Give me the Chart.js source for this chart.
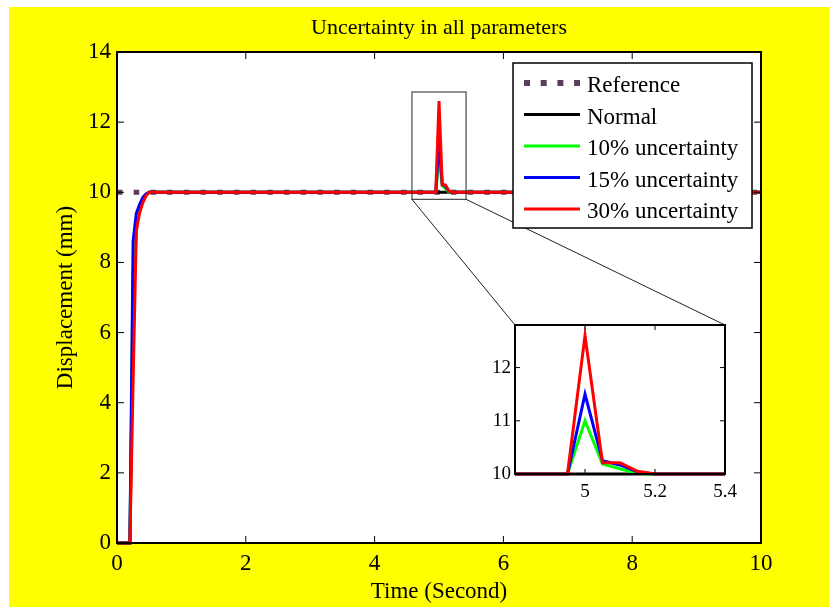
<!DOCTYPE html>
<html>
<head>
<meta charset="utf-8">
<script src="https://cdn.jsdelivr.net/npm/chart.js"></script>
<style>
  html, body { margin: 0; padding: 0; background: #fff; }
  #wrap { position: relative; width: 829px; height: 607px; }
  #mainChart { position: absolute; left: 0; top: 0; }
  #zoomChart { position: absolute; left: 470px; top: 305px; }
</style>
</head>
<body>
<div id="wrap">
  <canvas id="mainChart" width="829" height="607"></canvas>
  <canvas id="zoomChart" width="280" height="200"></canvas>
</div>
<script>
// data
const time = [0, 0.2, 0.25, 0.3, 0.35, 0.4, 0.45, 0.5, 4.95, 5.0, 5.05, 5.1, 5.15, 5.2, 10];
const normal = [0, 0, 6.5, 9.1, 9.5, 9.75, 9.92, 10, 10, 10, 10, 10, 10, 10, 10];
const unc10 = [0, 0, 7.8, 9.2, 9.5, 9.8, 9.93, 10, 10, 11.0, 10.19, 10.1, 10.01, 10, 10];
const unc15 = [0, 0, 8.6, 9.4, 9.65, 9.85, 9.95, 10, 10, 11.5, 10.25, 10.17, 10.04, 10, 10];
const unc30 = [0, 0, 4.6, 8.9, 9.4, 9.7, 9.9, 10, 10, 12.6, 10.21, 10.21, 10.05, 10, 10];
const refTime = [0, 10];
const refValues = [10, 10];

const seriesLabels = ["Reference", "Normal", "10% uncertainty", "15% uncertainty", "30% uncertainty"];
const seriesColors = ["#5c3c5c", "#000000", "#00ff00", "#0000ff", "#ff0000"];

const xTicks = [0, 2, 4, 6, 8, 10];
const yTicks = [0, 2, 4, 6, 8, 10, 12, 14];
const zoomXTicks = [5, 5.2, 5.4];
const zoomYTicks = [10, 11, 12];

const serif = "'Liberation Serif', 'Times New Roman', serif";
const REF_DASH = [5.5, 11.2];
const ZOOM_BOX = { x0: 4.58, x1: 5.42, y0: 9.8, y1: 12.86 };
const INSET = { left: 515, top: 325, right: 725, bottom: 474 };

const toXY = (xs, ys) => xs.map((x, i) => ({ x: x, y: ys[i] }));

function makeDatasets(withReference) {
  const common = { pointRadius: 0, tension: 0, fill: false, borderWidth: 3, clip: { left: 0, top: 0, right: 0, bottom: 3 } };
  const list = [
    Object.assign({}, common, { label: seriesLabels[0], data: toXY(refTime, refValues), borderColor: seriesColors[0], borderWidth: 5, borderDash: REF_DASH, borderCapStyle: "butt", order: 4 }),
    Object.assign({}, common, { label: seriesLabels[1], data: toXY(time, normal), borderColor: seriesColors[1], order: 3 }),
    Object.assign({}, common, { label: seriesLabels[2], data: toXY(time, unc10), borderColor: seriesColors[2], order: 2 }),
    Object.assign({}, common, { label: seriesLabels[3], data: toXY(time, unc15), borderColor: seriesColors[3], order: 1 }),
    Object.assign({}, common, { label: seriesLabels[4], data: toXY(time, unc30), borderColor: seriesColors[4], order: 0 }),
  ];
  return withReference ? list : list.slice(1);
}

// yellow figure + white axes background
const backdrop = {
  id: "backdrop",
  beforeDraw(chart, args, opts) {
    const { ctx, chartArea: a } = chart;
    ctx.save();
    if (opts.figure) {
      ctx.fillStyle = "#ffffff";
      ctx.fillRect(0, 0, chart.width, chart.height);
      ctx.fillStyle = "#ffff00";
      ctx.fillRect(9, 7, chart.width - 9, chart.height - 7);
    }
    ctx.fillStyle = "#ffffff";
    ctx.fillRect(a.left, a.top, a.width, a.height);
    ctx.restore();
  },
};

// matlab style box with inward ticks on all four sides
const axesBox = {
  id: "axesBox",
  afterDatasetsDraw(chart, args, opts) {
    const { ctx, chartArea: a, scales } = chart;
    const L = opts.tick;
    ctx.save();
    ctx.strokeStyle = "#000";
    ctx.lineWidth = 1;
    ctx.beginPath();
    scales.x.ticks.forEach((t) => {
      const px = scales.x.getPixelForValue(t.value);
      ctx.moveTo(px, a.bottom); ctx.lineTo(px, a.bottom - L);
      ctx.moveTo(px, a.top); ctx.lineTo(px, a.top + L);
    });
    scales.y.ticks.forEach((t) => {
      const py = scales.y.getPixelForValue(t.value);
      ctx.moveTo(a.left, py); ctx.lineTo(a.left + L, py);
      ctx.moveTo(a.right, py); ctx.lineTo(a.right - L, py);
    });
    ctx.stroke();
    ctx.lineWidth = 2;
    ctx.strokeRect(a.left, a.top, a.width, a.height);
    ctx.restore();
  },
};

// zoom rectangle and the two lines going to the inset
const zoomMarker = {
  id: "zoomMarker",
  afterDatasetsDraw(chart) {
    const { ctx, scales: { x, y } } = chart;
    const l = x.getPixelForValue(ZOOM_BOX.x0), r = x.getPixelForValue(ZOOM_BOX.x1);
    const t = y.getPixelForValue(ZOOM_BOX.y1), b = y.getPixelForValue(ZOOM_BOX.y0);
    ctx.save();
    ctx.strokeStyle = "#222";
    ctx.lineWidth = 1;
    ctx.strokeRect(l, t, r - l, b - t);
    ctx.beginPath();
    ctx.moveTo(l, b); ctx.lineTo(INSET.left, INSET.top);
    ctx.moveTo(r, b); ctx.lineTo(INSET.right, INSET.top);
    ctx.stroke();
    ctx.restore();
  },
};

// legend box drawn inside the axes, top right
const boxLegend = {
  id: "boxLegend",
  afterDraw(chart) {
    const { ctx } = chart;
    const box = { left: 513, top: 63, right: 752, bottom: 228 };
    ctx.save();
    ctx.fillStyle = "#fff";
    ctx.fillRect(box.left, box.top, box.right - box.left, box.bottom - box.top);
    ctx.strokeStyle = "#000";
    ctx.lineWidth = 1.5;
    ctx.strokeRect(box.left, box.top, box.right - box.left, box.bottom - box.top);
    ctx.font = "23px " + serif;
    ctx.textBaseline = "alphabetic";
    ctx.textAlign = "left";
    chart.data.datasets.forEach((ds, i) => {
      const ry = box.top + 20 + i * 31.5;
      ctx.beginPath();
      ctx.strokeStyle = ds.borderColor;
      ctx.lineWidth = i === 0 ? 6 : 3;
      ctx.setLineDash(i === 0 ? [6, 10.7] : []);
      ctx.lineCap = "butt";
      ctx.moveTo(524, ry); ctx.lineTo(580, ry);
      ctx.stroke();
      ctx.setLineDash([]);
      ctx.fillStyle = "#000";
      ctx.fillText(ds.label, 587, ry + 9);
    });
    ctx.restore();
  },
};

const fixTicks = (list) => (scale) => { scale.ticks = list.map((v) => ({ value: v })); };
const plainLabel = (v) => String(v);

new Chart(document.getElementById("mainChart"), {
  type: "line",
  data: { datasets: makeDatasets(true) },
  plugins: [backdrop, zoomMarker, axesBox, boxLegend],
  options: {
    responsive: false,
    animation: false,
    layout: { padding: { left: 40, right: 68, top: 0, bottom: 0 } },
    plugins: {
      legend: { display: false },
      tooltip: { enabled: false },
      backdrop: { figure: true },
      axesBox: { tick: 7 },
      title: {
        display: true,
        fullSize: false,
        text: "Uncertainty in all parameters",
        color: "#000",
        font: { family: serif, size: 22, weight: "normal" },
        padding: { top: 15.5, bottom: 10.1 },
      },
    },
    scales: {
      x: {
        type: "linear",
        min: 0,
        max: 10,
        afterBuildTicks: fixTicks(xTicks),
        afterFit: (s) => { s.height = 64; },
        grid: { display: false, drawTicks: false },
        border: { display: false },
        ticks: { color: "#000", font: { family: serif, size: 23 }, padding: 7, maxRotation: 0, callback: plainLabel },
        title: { display: true, text: "Time (Second)", color: "#000", font: { family: serif, size: 23 }, padding: { top: 0, bottom: 1 } },
      },
      y: {
        type: "linear",
        min: 0,
        max: 14,
        afterBuildTicks: fixTicks(yTicks),
        afterFit: (s) => { s.width = 77; },
        grid: { display: false, drawTicks: false },
        border: { display: false },
        ticks: { color: "#000", font: { family: serif, size: 23 }, padding: 6, callback: plainLabel },
        title: { display: true, text: "Displacement (mm)", color: "#000", font: { family: serif, size: 23 }, padding: { top: 12, bottom: 0 } },
      },
    },
  },
});

new Chart(document.getElementById("zoomChart"), {
  type: "line",
  data: { datasets: makeDatasets(false) },
  plugins: [backdrop, axesBox],
  options: {
    responsive: false,
    animation: false,
    layout: { padding: { left: 0, right: 25, top: 20, bottom: 0 } },
    plugins: {
      legend: { display: false },
      tooltip: { enabled: false },
      backdrop: { figure: false },
      axesBox: { tick: 5 },
    },
    scales: {
      x: {
        type: "linear",
        min: 4.8,
        max: 5.4,
        afterBuildTicks: fixTicks(zoomXTicks),
        afterFit: (s) => { s.height = 31; },
        grid: { display: false, drawTicks: false },
        border: { display: false },
        ticks: { color: "#000", font: { family: serif, size: 19 }, padding: 7, maxRotation: 0, callback: plainLabel },
      },
      y: {
        type: "linear",
        min: 10,
        max: 12.8,
        afterBuildTicks: fixTicks(zoomYTicks),
        afterFit: (s) => { s.width = 45; },
        grid: { display: false, drawTicks: false },
        border: { display: false },
        ticks: { color: "#000", font: { family: serif, size: 19 }, padding: 4, callback: plainLabel },
      },
    },
  },
});
</script>
</body>
</html>
